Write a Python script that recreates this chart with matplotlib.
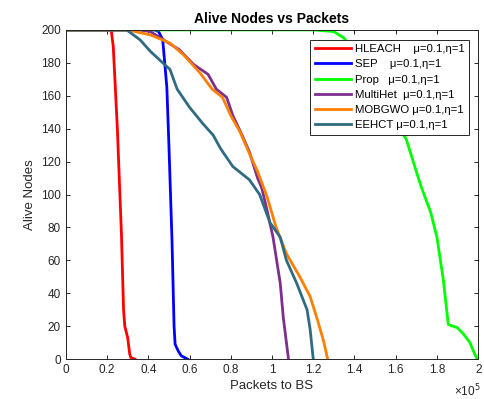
import matplotlib
matplotlib.use('Agg')
import matplotlib.pyplot as plt
from matplotlib.ticker import FuncFormatter, MultipleLocator

plt.rcParams['font.family'] = ['Liberation Sans', 'DejaVu Sans']

# 각 기법별 (패킷 수, 생존 노드 수)
hleach_x = [0, 22000, 23000, 25000, 27000, 28000, 28600, 30000, 31000, 31500, 33500]
hleach_y = [200, 200, 190, 140, 75, 30, 20, 13, 3, 1, 0]

sep_x = [0, 43000, 45000, 47000, 49000, 50000, 51500, 52500, 53000, 54500, 56000, 59000]
sep_y = [200, 200, 199, 194, 165, 130, 72, 20, 9, 5, 2, 0]

prop_x = [0, 120000, 130000, 135000, 140000, 150000, 160000, 165000, 172000, 177000,
          180000, 183000, 185500, 190000, 193000, 196000, 198000, 199500]
prop_y = [200, 200, 199, 195, 186, 166, 142, 134, 106, 89, 74, 49, 21, 19, 15, 10, 4, 0]

multihet_x = [0, 36000, 41000, 55000, 62000, 69000, 73000, 78000, 81000, 85500, 89000,
              93000, 95000, 97500, 100500, 104000, 105500, 108000]
multihet_y = [200, 200, 199, 188, 179, 173, 164, 159, 148, 136, 126, 110, 104, 91, 74, 46, 25, 0]

mobgwo_x = [0, 30000, 41000, 50500, 57000, 65000, 71000, 76000, 80000, 84500, 89000, 93000,
            97500, 102000, 107000, 113500, 118500, 122000, 125000, 127000]
mobgwo_y = [200, 200, 197, 192, 185, 174, 164, 159, 148, 138, 125, 114, 99, 80, 64, 50, 38, 24, 11, 0]

eehct_x = [0, 29500, 36000, 41000, 47000, 50500, 54000, 60000, 66500, 71500, 75000, 81000,
           89000, 94000, 99000, 104000, 107000, 112000, 117000, 118500, 120000]
eehct_y = [200, 200, 194, 187, 180, 176, 164, 153, 143, 136, 128, 117, 109, 100, 83, 74, 60, 46, 30, 18, 0]

labels = ['HLEACH    \u03bc=0.1,\u03b7=1', 'SEP    \u03bc=0.1,\u03b7=1', 'Prop   \u03bc=0.1,\u03b7=1',
          'MultiHet  \u03bc=0.1,\u03b7=1', 'MOBGWO \u03bc=0.1,\u03b7=1', 'EEHCT \u03bc=0.1,\u03b7=1']
colors = ['#ff0000', '#0000ff', '#00ff00', '#7e2f8e', '#ff8000', '#2f6b82']

series = [(hleach_x, hleach_y), (sep_x, sep_y), (prop_x, prop_y),
          (multihet_x, multihet_y), (mobgwo_x, mobgwo_y), (eehct_x, eehct_y)]

fig = plt.figure(figsize=(4.84, 3.99), dpi=100)
ax = fig.add_axes([0.136, 0.100, 0.852, 0.825])

for (xs, ys), lab, c in zip(series, labels, colors):
    ax.plot(xs, ys, color=c, linewidth=2.0, label=lab)

ax.set_xlim(0, 200000)
ax.set_ylim(0, 200)
ax.xaxis.set_major_locator(MultipleLocator(20000))
ax.yaxis.set_major_locator(MultipleLocator(20))
ax.xaxis.set_major_formatter(FuncFormatter(lambda v, p: '%g' % round(v / 1e5, 1)))

axis_col = '#262626'
for s in ax.spines.values():
    s.set_color(axis_col)
    s.set_linewidth(0.7)
ax.tick_params(direction='in', top=True, right=True, length=3, width=0.7,
               colors=axis_col, labelcolor=axis_col, labelsize=8.5)

ax.set_title('Alive Nodes vs Packets', fontsize=10, fontweight='bold', pad=5)
ax.set_xlabel('Packets to BS', fontsize=9.5, color=axis_col, labelpad=3)
ax.set_ylabel('Alive Nodes', fontsize=9.5, color=axis_col, labelpad=4)
ax.text(1.005, -0.113, '\u00d710$^5$', transform=ax.transAxes, ha='right', va='baseline',
        fontsize=8.5, color=axis_col)

leg = ax.legend(loc='upper right', bbox_to_anchor=(0.978, 0.97), fontsize=8.2,
                fancybox=False, framealpha=1, edgecolor=axis_col, handlelength=3.2,
                handletextpad=0.3, labelspacing=0.45, borderpad=0.4, borderaxespad=0)
leg.get_frame().set_linewidth(0.7)

fig.savefig('out.png', dpi=100)
